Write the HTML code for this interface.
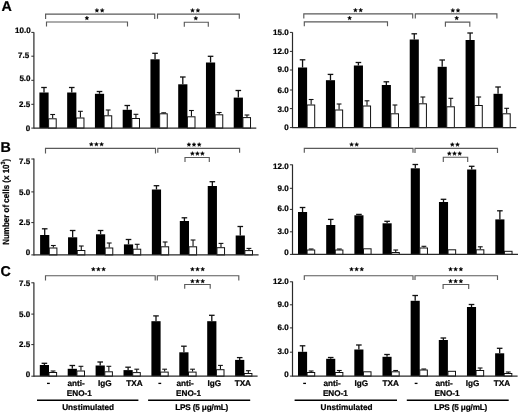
<!DOCTYPE html>
<html><head><meta charset="utf-8"><style>
html,body{margin:0;padding:0;background:#fff;}
body{width:520px;height:412px;overflow:hidden;}
svg{display:block;font-family:"Liberation Sans",sans-serif;}
text{stroke:#000;stroke-width:0.22px;}
svg{will-change:transform;text-rendering:geometricPrecision;}
</style></head><body>
<svg width="520" height="412" viewBox="0 0 520 412">
<rect width="520" height="412" fill="#fff"/>
<line x1="33.90" y1="32.20" x2="33.90" y2="128.60" stroke="#2a2a2a" stroke-width="1.2"/>
<line x1="31.30" y1="32.40" x2="33.90" y2="32.40" stroke="#2a2a2a" stroke-width="1.0"/>
<text x="30.70" y="32.80" font-size="8.0" text-anchor="end" font-weight="bold" >10.0</text>
<line x1="31.30" y1="56.20" x2="33.90" y2="56.20" stroke="#2a2a2a" stroke-width="1.0"/>
<text x="29.20" y="58.00" font-size="8.0" text-anchor="end" font-weight="bold" >7.5</text>
<line x1="31.30" y1="80.30" x2="33.90" y2="80.30" stroke="#2a2a2a" stroke-width="1.0"/>
<text x="30.50" y="81.00" font-size="8.0" text-anchor="end" font-weight="bold" >5.0</text>
<line x1="31.30" y1="104.30" x2="33.90" y2="104.30" stroke="#2a2a2a" stroke-width="1.0"/>
<text x="30.20" y="107.00" font-size="8.0" text-anchor="end" font-weight="bold" >2.5</text>
<line x1="31.30" y1="128.10" x2="33.90" y2="128.10" stroke="#2a2a2a" stroke-width="1.0"/>
<text x="30.20" y="130.80" font-size="8.0" text-anchor="end" font-weight="bold" >0</text>
<rect x="39.40" y="92.50" width="9.20" height="35.60" fill="#000"/>
<line x1="44.00" y1="87.50" x2="44.00" y2="92.50" stroke="#111" stroke-width="1.3"/>
<line x1="41.20" y1="87.50" x2="46.80" y2="87.50" stroke="#111" stroke-width="1.3"/>
<rect x="48.60" y="118.80" width="7.60" height="9.30" fill="#fff" stroke="#111" stroke-width="1.0"/>
<line x1="52.65" y1="114.50" x2="52.65" y2="118.30" stroke="#111" stroke-width="1.1"/>
<line x1="50.25" y1="114.50" x2="55.05" y2="114.50" stroke="#111" stroke-width="1.1"/>
<rect x="67.16" y="92.50" width="9.20" height="35.60" fill="#000"/>
<line x1="71.76" y1="87.50" x2="71.76" y2="92.50" stroke="#111" stroke-width="1.3"/>
<line x1="68.96" y1="87.50" x2="74.56" y2="87.50" stroke="#111" stroke-width="1.3"/>
<rect x="76.36" y="118.00" width="7.60" height="10.10" fill="#fff" stroke="#111" stroke-width="1.0"/>
<line x1="80.41" y1="111.30" x2="80.41" y2="117.50" stroke="#111" stroke-width="1.1"/>
<line x1="78.01" y1="111.30" x2="82.81" y2="111.30" stroke="#111" stroke-width="1.1"/>
<rect x="94.92" y="93.80" width="9.20" height="34.30" fill="#000"/>
<line x1="99.52" y1="91.50" x2="99.52" y2="93.80" stroke="#111" stroke-width="1.3"/>
<line x1="96.72" y1="91.50" x2="102.32" y2="91.50" stroke="#111" stroke-width="1.3"/>
<rect x="104.12" y="115.80" width="7.60" height="12.30" fill="#fff" stroke="#111" stroke-width="1.0"/>
<line x1="108.17" y1="110.00" x2="108.17" y2="115.30" stroke="#111" stroke-width="1.1"/>
<line x1="105.77" y1="110.00" x2="110.57" y2="110.00" stroke="#111" stroke-width="1.1"/>
<rect x="122.68" y="109.80" width="9.20" height="18.30" fill="#000"/>
<line x1="127.28" y1="105.50" x2="127.28" y2="109.80" stroke="#111" stroke-width="1.3"/>
<line x1="124.48" y1="105.50" x2="130.08" y2="105.50" stroke="#111" stroke-width="1.3"/>
<rect x="131.88" y="118.50" width="7.60" height="9.60" fill="#fff" stroke="#111" stroke-width="1.0"/>
<line x1="135.93" y1="114.30" x2="135.93" y2="118.00" stroke="#111" stroke-width="1.1"/>
<line x1="133.53" y1="114.30" x2="138.33" y2="114.30" stroke="#111" stroke-width="1.1"/>
<rect x="150.44" y="59.30" width="9.20" height="68.80" fill="#000"/>
<line x1="155.04" y1="53.30" x2="155.04" y2="59.30" stroke="#111" stroke-width="1.3"/>
<line x1="152.24" y1="53.30" x2="157.84" y2="53.30" stroke="#111" stroke-width="1.3"/>
<rect x="159.64" y="113.80" width="7.60" height="14.30" fill="#fff" stroke="#111" stroke-width="1.0"/>
<line x1="163.69" y1="112.80" x2="163.69" y2="113.30" stroke="#111" stroke-width="1.1"/>
<line x1="161.29" y1="112.80" x2="166.09" y2="112.80" stroke="#111" stroke-width="1.1"/>
<rect x="178.20" y="84.30" width="9.20" height="43.80" fill="#000"/>
<line x1="182.80" y1="77.00" x2="182.80" y2="84.30" stroke="#111" stroke-width="1.3"/>
<line x1="180.00" y1="77.00" x2="185.60" y2="77.00" stroke="#111" stroke-width="1.3"/>
<rect x="187.40" y="116.80" width="7.60" height="11.30" fill="#fff" stroke="#111" stroke-width="1.0"/>
<line x1="191.45" y1="110.50" x2="191.45" y2="116.30" stroke="#111" stroke-width="1.1"/>
<line x1="189.05" y1="110.50" x2="193.85" y2="110.50" stroke="#111" stroke-width="1.1"/>
<rect x="205.96" y="62.50" width="9.20" height="65.60" fill="#000"/>
<line x1="210.56" y1="56.30" x2="210.56" y2="62.50" stroke="#111" stroke-width="1.3"/>
<line x1="207.76" y1="56.30" x2="213.36" y2="56.30" stroke="#111" stroke-width="1.3"/>
<rect x="215.16" y="114.80" width="7.60" height="13.30" fill="#fff" stroke="#111" stroke-width="1.0"/>
<line x1="219.21" y1="112.50" x2="219.21" y2="114.30" stroke="#111" stroke-width="1.1"/>
<line x1="216.81" y1="112.50" x2="221.61" y2="112.50" stroke="#111" stroke-width="1.1"/>
<rect x="233.72" y="97.60" width="9.20" height="30.50" fill="#000"/>
<line x1="238.32" y1="90.50" x2="238.32" y2="97.60" stroke="#111" stroke-width="1.3"/>
<line x1="235.52" y1="90.50" x2="241.12" y2="90.50" stroke="#111" stroke-width="1.3"/>
<rect x="242.92" y="117.60" width="7.60" height="10.50" fill="#fff" stroke="#111" stroke-width="1.0"/>
<line x1="246.97" y1="115.00" x2="246.97" y2="117.10" stroke="#111" stroke-width="1.1"/>
<line x1="244.57" y1="115.00" x2="249.37" y2="115.00" stroke="#111" stroke-width="1.1"/>
<line x1="33.90" y1="128.10" x2="256.30" y2="128.10" stroke="#2a2a2a" stroke-width="1.2"/>
<line x1="292.50" y1="32.30" x2="292.50" y2="128.10" stroke="#2a2a2a" stroke-width="1.2"/>
<line x1="289.90" y1="32.40" x2="292.50" y2="32.40" stroke="#2a2a2a" stroke-width="1.0"/>
<text x="288.70" y="35.00" font-size="8.0" text-anchor="end" font-weight="bold" >15.0</text>
<line x1="289.90" y1="51.40" x2="292.50" y2="51.40" stroke="#2a2a2a" stroke-width="1.0"/>
<text x="288.70" y="53.70" font-size="8.0" text-anchor="end" font-weight="bold" >12.0</text>
<line x1="289.90" y1="70.00" x2="292.50" y2="70.00" stroke="#2a2a2a" stroke-width="1.0"/>
<text x="288.70" y="71.90" font-size="8.0" text-anchor="end" font-weight="bold" >9.0</text>
<line x1="289.90" y1="90.00" x2="292.50" y2="90.00" stroke="#2a2a2a" stroke-width="1.0"/>
<text x="288.70" y="93.30" font-size="8.0" text-anchor="end" font-weight="bold" >6.0</text>
<line x1="289.90" y1="108.60" x2="292.50" y2="108.60" stroke="#2a2a2a" stroke-width="1.0"/>
<text x="288.70" y="111.70" font-size="8.0" text-anchor="end" font-weight="bold" >3.0</text>
<line x1="289.90" y1="127.60" x2="292.50" y2="127.60" stroke="#2a2a2a" stroke-width="1.0"/>
<text x="288.70" y="130.20" font-size="8.0" text-anchor="end" font-weight="bold" >0</text>
<rect x="298.00" y="67.50" width="9.10" height="60.10" fill="#000"/>
<line x1="302.55" y1="59.80" x2="302.55" y2="67.50" stroke="#111" stroke-width="1.3"/>
<line x1="299.75" y1="59.80" x2="305.35" y2="59.80" stroke="#111" stroke-width="1.3"/>
<rect x="307.10" y="105.00" width="7.60" height="22.60" fill="#fff" stroke="#111" stroke-width="1.0"/>
<line x1="311.15" y1="99.50" x2="311.15" y2="104.50" stroke="#111" stroke-width="1.1"/>
<line x1="308.75" y1="99.50" x2="313.55" y2="99.50" stroke="#111" stroke-width="1.1"/>
<rect x="325.93" y="80.20" width="9.10" height="47.40" fill="#000"/>
<line x1="330.48" y1="74.40" x2="330.48" y2="80.20" stroke="#111" stroke-width="1.3"/>
<line x1="327.68" y1="74.40" x2="333.28" y2="74.40" stroke="#111" stroke-width="1.3"/>
<rect x="335.03" y="110.00" width="7.60" height="17.60" fill="#fff" stroke="#111" stroke-width="1.0"/>
<line x1="339.08" y1="104.00" x2="339.08" y2="109.50" stroke="#111" stroke-width="1.1"/>
<line x1="336.68" y1="104.00" x2="341.48" y2="104.00" stroke="#111" stroke-width="1.1"/>
<rect x="353.86" y="65.50" width="9.10" height="62.10" fill="#000"/>
<line x1="358.41" y1="62.50" x2="358.41" y2="65.50" stroke="#111" stroke-width="1.3"/>
<line x1="355.61" y1="62.50" x2="361.21" y2="62.50" stroke="#111" stroke-width="1.3"/>
<rect x="362.96" y="106.00" width="7.60" height="21.60" fill="#fff" stroke="#111" stroke-width="1.0"/>
<line x1="367.01" y1="100.80" x2="367.01" y2="105.50" stroke="#111" stroke-width="1.1"/>
<line x1="364.61" y1="100.80" x2="369.41" y2="100.80" stroke="#111" stroke-width="1.1"/>
<rect x="381.79" y="85.00" width="9.10" height="42.60" fill="#000"/>
<line x1="386.34" y1="81.80" x2="386.34" y2="85.00" stroke="#111" stroke-width="1.3"/>
<line x1="383.54" y1="81.80" x2="389.14" y2="81.80" stroke="#111" stroke-width="1.3"/>
<rect x="390.89" y="113.80" width="7.60" height="13.80" fill="#fff" stroke="#111" stroke-width="1.0"/>
<line x1="394.94" y1="105.00" x2="394.94" y2="113.30" stroke="#111" stroke-width="1.1"/>
<line x1="392.54" y1="105.00" x2="397.34" y2="105.00" stroke="#111" stroke-width="1.1"/>
<rect x="409.72" y="39.50" width="9.10" height="88.10" fill="#000"/>
<line x1="414.27" y1="33.80" x2="414.27" y2="39.50" stroke="#111" stroke-width="1.3"/>
<line x1="411.47" y1="33.80" x2="417.07" y2="33.80" stroke="#111" stroke-width="1.3"/>
<rect x="418.82" y="103.80" width="7.60" height="23.80" fill="#fff" stroke="#111" stroke-width="1.0"/>
<line x1="422.87" y1="97.00" x2="422.87" y2="103.30" stroke="#111" stroke-width="1.1"/>
<line x1="420.47" y1="97.00" x2="425.27" y2="97.00" stroke="#111" stroke-width="1.1"/>
<rect x="437.65" y="66.80" width="9.10" height="60.80" fill="#000"/>
<line x1="442.20" y1="60.00" x2="442.20" y2="66.80" stroke="#111" stroke-width="1.3"/>
<line x1="439.40" y1="60.00" x2="445.00" y2="60.00" stroke="#111" stroke-width="1.3"/>
<rect x="446.75" y="106.80" width="7.60" height="20.80" fill="#fff" stroke="#111" stroke-width="1.0"/>
<line x1="450.80" y1="98.30" x2="450.80" y2="106.30" stroke="#111" stroke-width="1.1"/>
<line x1="448.40" y1="98.30" x2="453.20" y2="98.30" stroke="#111" stroke-width="1.1"/>
<rect x="465.58" y="40.00" width="9.10" height="87.60" fill="#000"/>
<line x1="470.13" y1="33.00" x2="470.13" y2="40.00" stroke="#111" stroke-width="1.3"/>
<line x1="467.33" y1="33.00" x2="472.93" y2="33.00" stroke="#111" stroke-width="1.3"/>
<rect x="474.68" y="105.50" width="7.60" height="22.10" fill="#fff" stroke="#111" stroke-width="1.0"/>
<line x1="478.73" y1="97.00" x2="478.73" y2="105.00" stroke="#111" stroke-width="1.1"/>
<line x1="476.33" y1="97.00" x2="481.13" y2="97.00" stroke="#111" stroke-width="1.1"/>
<rect x="493.51" y="93.80" width="9.10" height="33.80" fill="#000"/>
<line x1="498.06" y1="87.00" x2="498.06" y2="93.80" stroke="#111" stroke-width="1.3"/>
<line x1="495.26" y1="87.00" x2="500.86" y2="87.00" stroke="#111" stroke-width="1.3"/>
<rect x="502.61" y="113.80" width="7.60" height="13.80" fill="#fff" stroke="#111" stroke-width="1.0"/>
<line x1="506.66" y1="108.30" x2="506.66" y2="113.30" stroke="#111" stroke-width="1.1"/>
<line x1="504.26" y1="108.30" x2="509.06" y2="108.30" stroke="#111" stroke-width="1.1"/>
<line x1="292.50" y1="127.60" x2="516.30" y2="127.60" stroke="#2a2a2a" stroke-width="1.2"/>
<line x1="33.90" y1="158.60" x2="33.90" y2="255.40" stroke="#2a2a2a" stroke-width="1.2"/>
<line x1="31.30" y1="159.00" x2="33.90" y2="159.00" stroke="#2a2a2a" stroke-width="1.0"/>
<text x="30.20" y="164.00" font-size="8.0" text-anchor="end" font-weight="bold" >7.5</text>
<line x1="31.30" y1="191.90" x2="33.90" y2="191.90" stroke="#2a2a2a" stroke-width="1.0"/>
<text x="30.20" y="194.70" font-size="8.0" text-anchor="end" font-weight="bold" >5.0</text>
<line x1="31.30" y1="222.60" x2="33.90" y2="222.60" stroke="#2a2a2a" stroke-width="1.0"/>
<text x="30.20" y="224.70" font-size="8.0" text-anchor="end" font-weight="bold" >2.5</text>
<line x1="31.30" y1="254.90" x2="33.90" y2="254.90" stroke="#2a2a2a" stroke-width="1.0"/>
<text x="30.20" y="255.30" font-size="8.0" text-anchor="end" font-weight="bold" >0</text>
<rect x="40.10" y="235.00" width="9.20" height="19.90" fill="#000"/>
<line x1="44.70" y1="228.80" x2="44.70" y2="235.00" stroke="#111" stroke-width="1.3"/>
<line x1="41.90" y1="228.80" x2="47.50" y2="228.80" stroke="#111" stroke-width="1.3"/>
<rect x="49.30" y="248.00" width="7.60" height="6.90" fill="#fff" stroke="#111" stroke-width="1.0"/>
<line x1="53.35" y1="245.50" x2="53.35" y2="247.50" stroke="#111" stroke-width="1.1"/>
<line x1="50.95" y1="245.50" x2="55.75" y2="245.50" stroke="#111" stroke-width="1.1"/>
<rect x="68.04" y="237.30" width="9.20" height="17.60" fill="#000"/>
<line x1="72.64" y1="230.50" x2="72.64" y2="237.30" stroke="#111" stroke-width="1.3"/>
<line x1="69.84" y1="230.50" x2="75.44" y2="230.50" stroke="#111" stroke-width="1.3"/>
<rect x="77.24" y="250.50" width="7.60" height="4.40" fill="#fff" stroke="#111" stroke-width="1.0"/>
<line x1="81.29" y1="246.00" x2="81.29" y2="250.00" stroke="#111" stroke-width="1.1"/>
<line x1="78.89" y1="246.00" x2="83.69" y2="246.00" stroke="#111" stroke-width="1.1"/>
<rect x="95.98" y="234.30" width="9.20" height="20.60" fill="#000"/>
<line x1="100.58" y1="230.50" x2="100.58" y2="234.30" stroke="#111" stroke-width="1.3"/>
<line x1="97.78" y1="230.50" x2="103.38" y2="230.50" stroke="#111" stroke-width="1.3"/>
<rect x="105.18" y="248.00" width="7.60" height="6.90" fill="#fff" stroke="#111" stroke-width="1.0"/>
<line x1="109.23" y1="243.00" x2="109.23" y2="247.50" stroke="#111" stroke-width="1.1"/>
<line x1="106.83" y1="243.00" x2="111.63" y2="243.00" stroke="#111" stroke-width="1.1"/>
<rect x="123.92" y="244.40" width="9.20" height="10.50" fill="#000"/>
<line x1="128.52" y1="239.50" x2="128.52" y2="244.40" stroke="#111" stroke-width="1.3"/>
<line x1="125.72" y1="239.50" x2="131.32" y2="239.50" stroke="#111" stroke-width="1.3"/>
<rect x="133.12" y="249.20" width="7.60" height="5.70" fill="#fff" stroke="#111" stroke-width="1.0"/>
<line x1="137.17" y1="244.30" x2="137.17" y2="248.70" stroke="#111" stroke-width="1.1"/>
<line x1="134.77" y1="244.30" x2="139.57" y2="244.30" stroke="#111" stroke-width="1.1"/>
<rect x="151.86" y="189.50" width="9.20" height="65.40" fill="#000"/>
<line x1="156.46" y1="185.70" x2="156.46" y2="189.50" stroke="#111" stroke-width="1.3"/>
<line x1="153.66" y1="185.70" x2="159.26" y2="185.70" stroke="#111" stroke-width="1.3"/>
<rect x="161.06" y="246.80" width="7.60" height="8.10" fill="#fff" stroke="#111" stroke-width="1.0"/>
<line x1="165.11" y1="242.00" x2="165.11" y2="246.30" stroke="#111" stroke-width="1.1"/>
<line x1="162.71" y1="242.00" x2="167.51" y2="242.00" stroke="#111" stroke-width="1.1"/>
<rect x="179.80" y="221.00" width="9.20" height="33.90" fill="#000"/>
<line x1="184.40" y1="217.80" x2="184.40" y2="221.00" stroke="#111" stroke-width="1.3"/>
<line x1="181.60" y1="217.80" x2="187.20" y2="217.80" stroke="#111" stroke-width="1.3"/>
<rect x="189.00" y="246.80" width="7.60" height="8.10" fill="#fff" stroke="#111" stroke-width="1.0"/>
<line x1="193.05" y1="240.00" x2="193.05" y2="246.30" stroke="#111" stroke-width="1.1"/>
<line x1="190.65" y1="240.00" x2="195.45" y2="240.00" stroke="#111" stroke-width="1.1"/>
<rect x="207.74" y="186.00" width="9.20" height="68.90" fill="#000"/>
<line x1="212.34" y1="181.70" x2="212.34" y2="186.00" stroke="#111" stroke-width="1.3"/>
<line x1="209.54" y1="181.70" x2="215.14" y2="181.70" stroke="#111" stroke-width="1.3"/>
<rect x="216.94" y="247.70" width="7.60" height="7.20" fill="#fff" stroke="#111" stroke-width="1.0"/>
<line x1="220.99" y1="243.40" x2="220.99" y2="247.20" stroke="#111" stroke-width="1.1"/>
<line x1="218.59" y1="243.40" x2="223.39" y2="243.40" stroke="#111" stroke-width="1.1"/>
<rect x="235.68" y="235.50" width="9.20" height="19.40" fill="#000"/>
<line x1="240.28" y1="226.50" x2="240.28" y2="235.50" stroke="#111" stroke-width="1.3"/>
<line x1="237.48" y1="226.50" x2="243.08" y2="226.50" stroke="#111" stroke-width="1.3"/>
<rect x="244.88" y="250.60" width="7.60" height="4.30" fill="#fff" stroke="#111" stroke-width="1.0"/>
<line x1="248.93" y1="248.40" x2="248.93" y2="250.10" stroke="#111" stroke-width="1.1"/>
<line x1="246.53" y1="248.40" x2="251.33" y2="248.40" stroke="#111" stroke-width="1.1"/>
<line x1="33.90" y1="254.90" x2="258.60" y2="254.90" stroke="#2a2a2a" stroke-width="1.2"/>
<line x1="292.50" y1="164.50" x2="292.50" y2="254.90" stroke="#2a2a2a" stroke-width="1.2"/>
<line x1="289.90" y1="164.80" x2="292.50" y2="164.80" stroke="#2a2a2a" stroke-width="1.0"/>
<text x="288.70" y="168.50" font-size="8.0" text-anchor="end" font-weight="bold" >12.0</text>
<line x1="289.90" y1="188.30" x2="292.50" y2="188.30" stroke="#2a2a2a" stroke-width="1.0"/>
<text x="288.70" y="190.80" font-size="8.0" text-anchor="end" font-weight="bold" >9.0</text>
<line x1="289.90" y1="209.40" x2="292.50" y2="209.40" stroke="#2a2a2a" stroke-width="1.0"/>
<text x="288.70" y="211.10" font-size="8.0" text-anchor="end" font-weight="bold" >6.0</text>
<line x1="289.90" y1="231.80" x2="292.50" y2="231.80" stroke="#2a2a2a" stroke-width="1.0"/>
<text x="288.70" y="234.00" font-size="8.0" text-anchor="end" font-weight="bold" >3.0</text>
<line x1="289.90" y1="254.40" x2="292.50" y2="254.40" stroke="#2a2a2a" stroke-width="1.0"/>
<text x="288.70" y="255.10" font-size="8.0" text-anchor="end" font-weight="bold" >0</text>
<rect x="298.00" y="212.00" width="9.10" height="42.40" fill="#000"/>
<line x1="302.55" y1="207.50" x2="302.55" y2="212.00" stroke="#111" stroke-width="1.3"/>
<line x1="299.75" y1="207.50" x2="305.35" y2="207.50" stroke="#111" stroke-width="1.3"/>
<rect x="307.10" y="250.00" width="7.60" height="4.40" fill="#fff" stroke="#111" stroke-width="1.0"/>
<line x1="311.15" y1="249.00" x2="311.15" y2="249.50" stroke="#111" stroke-width="1.1"/>
<line x1="308.75" y1="249.00" x2="313.55" y2="249.00" stroke="#111" stroke-width="1.1"/>
<rect x="326.19" y="225.00" width="9.10" height="29.40" fill="#000"/>
<line x1="330.74" y1="219.40" x2="330.74" y2="225.00" stroke="#111" stroke-width="1.3"/>
<line x1="327.94" y1="219.40" x2="333.54" y2="219.40" stroke="#111" stroke-width="1.3"/>
<rect x="335.29" y="250.00" width="7.60" height="4.40" fill="#fff" stroke="#111" stroke-width="1.0"/>
<line x1="339.34" y1="249.00" x2="339.34" y2="249.50" stroke="#111" stroke-width="1.1"/>
<line x1="336.94" y1="249.00" x2="341.74" y2="249.00" stroke="#111" stroke-width="1.1"/>
<rect x="354.38" y="215.30" width="9.10" height="39.10" fill="#000"/>
<line x1="358.93" y1="214.40" x2="358.93" y2="215.30" stroke="#111" stroke-width="1.3"/>
<line x1="356.13" y1="214.40" x2="361.73" y2="214.40" stroke="#111" stroke-width="1.3"/>
<rect x="363.48" y="248.80" width="7.60" height="5.60" fill="#fff" stroke="#111" stroke-width="1.0"/>
<rect x="382.57" y="223.30" width="9.10" height="31.10" fill="#000"/>
<line x1="387.12" y1="221.30" x2="387.12" y2="223.30" stroke="#111" stroke-width="1.3"/>
<line x1="384.32" y1="221.30" x2="389.92" y2="221.30" stroke="#111" stroke-width="1.3"/>
<rect x="391.67" y="252.50" width="7.60" height="1.90" fill="#fff" stroke="#111" stroke-width="1.0"/>
<line x1="395.72" y1="250.00" x2="395.72" y2="252.00" stroke="#111" stroke-width="1.1"/>
<line x1="393.32" y1="250.00" x2="398.12" y2="250.00" stroke="#111" stroke-width="1.1"/>
<rect x="410.76" y="168.30" width="9.10" height="86.10" fill="#000"/>
<line x1="415.31" y1="164.50" x2="415.31" y2="168.30" stroke="#111" stroke-width="1.3"/>
<line x1="412.51" y1="164.50" x2="418.11" y2="164.50" stroke="#111" stroke-width="1.3"/>
<rect x="419.86" y="248.00" width="7.60" height="6.40" fill="#fff" stroke="#111" stroke-width="1.0"/>
<line x1="423.91" y1="246.30" x2="423.91" y2="247.50" stroke="#111" stroke-width="1.1"/>
<line x1="421.51" y1="246.30" x2="426.31" y2="246.30" stroke="#111" stroke-width="1.1"/>
<rect x="438.95" y="202.00" width="9.10" height="52.40" fill="#000"/>
<line x1="443.50" y1="199.30" x2="443.50" y2="202.00" stroke="#111" stroke-width="1.3"/>
<line x1="440.70" y1="199.30" x2="446.30" y2="199.30" stroke="#111" stroke-width="1.3"/>
<rect x="448.05" y="249.80" width="7.60" height="4.60" fill="#fff" stroke="#111" stroke-width="1.0"/>
<rect x="467.14" y="169.50" width="9.10" height="84.90" fill="#000"/>
<line x1="471.69" y1="166.30" x2="471.69" y2="169.50" stroke="#111" stroke-width="1.3"/>
<line x1="468.89" y1="166.30" x2="474.49" y2="166.30" stroke="#111" stroke-width="1.3"/>
<rect x="476.24" y="249.80" width="7.60" height="4.60" fill="#fff" stroke="#111" stroke-width="1.0"/>
<line x1="480.29" y1="246.80" x2="480.29" y2="249.30" stroke="#111" stroke-width="1.1"/>
<line x1="477.89" y1="246.80" x2="482.69" y2="246.80" stroke="#111" stroke-width="1.1"/>
<rect x="495.33" y="219.40" width="9.10" height="35.00" fill="#000"/>
<line x1="499.88" y1="210.80" x2="499.88" y2="219.40" stroke="#111" stroke-width="1.3"/>
<line x1="497.08" y1="210.80" x2="502.68" y2="210.80" stroke="#111" stroke-width="1.3"/>
<rect x="504.43" y="251.30" width="7.60" height="3.10" fill="#fff" stroke="#111" stroke-width="1.0"/>
<line x1="292.50" y1="254.40" x2="518.00" y2="254.40" stroke="#2a2a2a" stroke-width="1.2"/>
<line x1="33.90" y1="282.50" x2="33.90" y2="376.70" stroke="#2a2a2a" stroke-width="1.2"/>
<line x1="31.30" y1="282.80" x2="33.90" y2="282.80" stroke="#2a2a2a" stroke-width="1.0"/>
<text x="30.20" y="286.20" font-size="8.0" text-anchor="end" font-weight="bold" >7.5</text>
<line x1="31.30" y1="314.10" x2="33.90" y2="314.10" stroke="#2a2a2a" stroke-width="1.0"/>
<text x="30.20" y="316.80" font-size="8.0" text-anchor="end" font-weight="bold" >5.0</text>
<line x1="31.30" y1="344.60" x2="33.90" y2="344.60" stroke="#2a2a2a" stroke-width="1.0"/>
<text x="30.20" y="346.70" font-size="8.0" text-anchor="end" font-weight="bold" >2.5</text>
<line x1="31.30" y1="376.20" x2="33.90" y2="376.20" stroke="#2a2a2a" stroke-width="1.0"/>
<text x="30.20" y="377.30" font-size="8.0" text-anchor="end" font-weight="bold" >0</text>
<rect x="39.80" y="365.00" width="9.20" height="11.20" fill="#000"/>
<line x1="44.40" y1="363.30" x2="44.40" y2="365.00" stroke="#111" stroke-width="1.3"/>
<line x1="41.60" y1="363.30" x2="47.20" y2="363.30" stroke="#111" stroke-width="1.3"/>
<rect x="49.00" y="372.50" width="7.60" height="3.70" fill="#fff" stroke="#111" stroke-width="1.0"/>
<line x1="53.05" y1="371.00" x2="53.05" y2="372.00" stroke="#111" stroke-width="1.1"/>
<line x1="50.65" y1="371.00" x2="55.45" y2="371.00" stroke="#111" stroke-width="1.1"/>
<rect x="67.70" y="368.80" width="9.20" height="7.40" fill="#000"/>
<line x1="72.30" y1="365.50" x2="72.30" y2="368.80" stroke="#111" stroke-width="1.3"/>
<line x1="69.50" y1="365.50" x2="75.10" y2="365.50" stroke="#111" stroke-width="1.3"/>
<rect x="76.90" y="371.00" width="7.60" height="5.20" fill="#fff" stroke="#111" stroke-width="1.0"/>
<line x1="80.95" y1="366.30" x2="80.95" y2="370.50" stroke="#111" stroke-width="1.1"/>
<line x1="78.55" y1="366.30" x2="83.35" y2="366.30" stroke="#111" stroke-width="1.1"/>
<rect x="95.60" y="365.50" width="9.20" height="10.70" fill="#000"/>
<line x1="100.20" y1="362.00" x2="100.20" y2="365.50" stroke="#111" stroke-width="1.3"/>
<line x1="97.40" y1="362.00" x2="103.00" y2="362.00" stroke="#111" stroke-width="1.3"/>
<rect x="104.80" y="371.80" width="7.60" height="4.40" fill="#fff" stroke="#111" stroke-width="1.0"/>
<line x1="108.85" y1="366.30" x2="108.85" y2="371.30" stroke="#111" stroke-width="1.1"/>
<line x1="106.45" y1="366.30" x2="111.25" y2="366.30" stroke="#111" stroke-width="1.1"/>
<rect x="123.50" y="370.10" width="9.20" height="6.10" fill="#000"/>
<line x1="128.10" y1="367.20" x2="128.10" y2="370.10" stroke="#111" stroke-width="1.3"/>
<line x1="125.30" y1="367.20" x2="130.90" y2="367.20" stroke="#111" stroke-width="1.3"/>
<rect x="132.70" y="372.60" width="7.60" height="3.60" fill="#fff" stroke="#111" stroke-width="1.0"/>
<line x1="136.75" y1="369.20" x2="136.75" y2="372.10" stroke="#111" stroke-width="1.1"/>
<line x1="134.35" y1="369.20" x2="139.15" y2="369.20" stroke="#111" stroke-width="1.1"/>
<rect x="151.40" y="321.20" width="9.20" height="55.00" fill="#000"/>
<line x1="156.00" y1="315.90" x2="156.00" y2="321.20" stroke="#111" stroke-width="1.3"/>
<line x1="153.20" y1="315.90" x2="158.80" y2="315.90" stroke="#111" stroke-width="1.3"/>
<rect x="160.60" y="372.10" width="7.60" height="4.10" fill="#fff" stroke="#111" stroke-width="1.0"/>
<line x1="164.65" y1="369.20" x2="164.65" y2="371.60" stroke="#111" stroke-width="1.1"/>
<line x1="162.25" y1="369.20" x2="167.05" y2="369.20" stroke="#111" stroke-width="1.1"/>
<rect x="179.30" y="352.30" width="9.20" height="23.90" fill="#000"/>
<line x1="183.90" y1="346.20" x2="183.90" y2="352.30" stroke="#111" stroke-width="1.3"/>
<line x1="181.10" y1="346.20" x2="186.70" y2="346.20" stroke="#111" stroke-width="1.3"/>
<rect x="188.50" y="372.10" width="7.60" height="4.10" fill="#fff" stroke="#111" stroke-width="1.0"/>
<line x1="192.55" y1="369.20" x2="192.55" y2="371.60" stroke="#111" stroke-width="1.1"/>
<line x1="190.15" y1="369.20" x2="194.95" y2="369.20" stroke="#111" stroke-width="1.1"/>
<rect x="207.20" y="321.20" width="9.20" height="55.00" fill="#000"/>
<line x1="211.80" y1="315.30" x2="211.80" y2="321.20" stroke="#111" stroke-width="1.3"/>
<line x1="209.00" y1="315.30" x2="214.60" y2="315.30" stroke="#111" stroke-width="1.3"/>
<rect x="216.40" y="369.70" width="7.60" height="6.50" fill="#fff" stroke="#111" stroke-width="1.0"/>
<line x1="220.45" y1="365.40" x2="220.45" y2="369.20" stroke="#111" stroke-width="1.1"/>
<line x1="218.05" y1="365.40" x2="222.85" y2="365.40" stroke="#111" stroke-width="1.1"/>
<rect x="235.10" y="359.90" width="9.20" height="16.30" fill="#000"/>
<line x1="239.70" y1="357.60" x2="239.70" y2="359.90" stroke="#111" stroke-width="1.3"/>
<line x1="236.90" y1="357.60" x2="242.50" y2="357.60" stroke="#111" stroke-width="1.3"/>
<rect x="244.30" y="373.50" width="7.60" height="2.70" fill="#fff" stroke="#111" stroke-width="1.0"/>
<line x1="248.35" y1="370.70" x2="248.35" y2="373.00" stroke="#111" stroke-width="1.1"/>
<line x1="245.95" y1="370.70" x2="250.75" y2="370.70" stroke="#111" stroke-width="1.1"/>
<line x1="33.90" y1="376.20" x2="257.60" y2="376.20" stroke="#2a2a2a" stroke-width="1.2"/>
<line x1="292.50" y1="281.50" x2="292.50" y2="376.60" stroke="#2a2a2a" stroke-width="1.2"/>
<line x1="289.90" y1="281.80" x2="292.50" y2="281.80" stroke="#2a2a2a" stroke-width="1.0"/>
<text x="288.70" y="284.40" font-size="8.0" text-anchor="end" font-weight="bold" >12.0</text>
<line x1="289.90" y1="304.80" x2="292.50" y2="304.80" stroke="#2a2a2a" stroke-width="1.0"/>
<text x="288.70" y="307.30" font-size="8.0" text-anchor="end" font-weight="bold" >9.0</text>
<line x1="289.90" y1="327.90" x2="292.50" y2="327.90" stroke="#2a2a2a" stroke-width="1.0"/>
<text x="288.70" y="330.10" font-size="8.0" text-anchor="end" font-weight="bold" >6.0</text>
<line x1="289.90" y1="352.20" x2="292.50" y2="352.20" stroke="#2a2a2a" stroke-width="1.0"/>
<text x="288.70" y="354.00" font-size="8.0" text-anchor="end" font-weight="bold" >3.0</text>
<line x1="289.90" y1="376.10" x2="292.50" y2="376.10" stroke="#2a2a2a" stroke-width="1.0"/>
<text x="288.70" y="376.60" font-size="8.0" text-anchor="end" font-weight="bold" >0</text>
<rect x="298.00" y="351.80" width="9.10" height="24.30" fill="#000"/>
<line x1="302.55" y1="345.80" x2="302.55" y2="351.80" stroke="#111" stroke-width="1.3"/>
<line x1="299.75" y1="345.80" x2="305.35" y2="345.80" stroke="#111" stroke-width="1.3"/>
<rect x="307.10" y="372.50" width="7.60" height="3.60" fill="#fff" stroke="#111" stroke-width="1.0"/>
<line x1="311.15" y1="371.00" x2="311.15" y2="372.00" stroke="#111" stroke-width="1.1"/>
<line x1="308.75" y1="371.00" x2="313.55" y2="371.00" stroke="#111" stroke-width="1.1"/>
<rect x="326.16" y="358.80" width="9.10" height="17.30" fill="#000"/>
<line x1="330.71" y1="357.50" x2="330.71" y2="358.80" stroke="#111" stroke-width="1.3"/>
<line x1="327.91" y1="357.50" x2="333.51" y2="357.50" stroke="#111" stroke-width="1.3"/>
<rect x="335.26" y="372.50" width="7.60" height="3.60" fill="#fff" stroke="#111" stroke-width="1.0"/>
<line x1="339.31" y1="370.50" x2="339.31" y2="372.00" stroke="#111" stroke-width="1.1"/>
<line x1="336.91" y1="370.50" x2="341.71" y2="370.50" stroke="#111" stroke-width="1.1"/>
<rect x="354.32" y="349.50" width="9.10" height="26.60" fill="#000"/>
<line x1="358.87" y1="345.00" x2="358.87" y2="349.50" stroke="#111" stroke-width="1.3"/>
<line x1="356.07" y1="345.00" x2="361.67" y2="345.00" stroke="#111" stroke-width="1.3"/>
<rect x="363.42" y="371.80" width="7.60" height="4.30" fill="#fff" stroke="#111" stroke-width="1.0"/>
<rect x="382.48" y="356.80" width="9.10" height="19.30" fill="#000"/>
<line x1="387.03" y1="354.50" x2="387.03" y2="356.80" stroke="#111" stroke-width="1.3"/>
<line x1="384.23" y1="354.50" x2="389.83" y2="354.50" stroke="#111" stroke-width="1.3"/>
<rect x="391.58" y="371.80" width="7.60" height="4.30" fill="#fff" stroke="#111" stroke-width="1.0"/>
<line x1="395.63" y1="370.50" x2="395.63" y2="371.30" stroke="#111" stroke-width="1.1"/>
<line x1="393.23" y1="370.50" x2="398.03" y2="370.50" stroke="#111" stroke-width="1.1"/>
<rect x="410.64" y="300.80" width="9.10" height="75.30" fill="#000"/>
<line x1="415.19" y1="295.50" x2="415.19" y2="300.80" stroke="#111" stroke-width="1.3"/>
<line x1="412.39" y1="295.50" x2="417.99" y2="295.50" stroke="#111" stroke-width="1.3"/>
<rect x="419.74" y="370.00" width="7.60" height="6.10" fill="#fff" stroke="#111" stroke-width="1.0"/>
<line x1="423.79" y1="369.00" x2="423.79" y2="369.50" stroke="#111" stroke-width="1.1"/>
<line x1="421.39" y1="369.00" x2="426.19" y2="369.00" stroke="#111" stroke-width="1.1"/>
<rect x="438.80" y="340.00" width="9.10" height="36.10" fill="#000"/>
<line x1="443.35" y1="338.00" x2="443.35" y2="340.00" stroke="#111" stroke-width="1.3"/>
<line x1="440.55" y1="338.00" x2="446.15" y2="338.00" stroke="#111" stroke-width="1.3"/>
<rect x="447.90" y="371.30" width="7.60" height="4.80" fill="#fff" stroke="#111" stroke-width="1.0"/>
<rect x="466.96" y="307.00" width="9.10" height="69.10" fill="#000"/>
<line x1="471.51" y1="304.50" x2="471.51" y2="307.00" stroke="#111" stroke-width="1.3"/>
<line x1="468.71" y1="304.50" x2="474.31" y2="304.50" stroke="#111" stroke-width="1.3"/>
<rect x="476.06" y="370.50" width="7.60" height="5.60" fill="#fff" stroke="#111" stroke-width="1.0"/>
<line x1="480.11" y1="368.00" x2="480.11" y2="370.00" stroke="#111" stroke-width="1.1"/>
<line x1="477.71" y1="368.00" x2="482.51" y2="368.00" stroke="#111" stroke-width="1.1"/>
<rect x="495.12" y="353.30" width="9.10" height="22.80" fill="#000"/>
<line x1="499.67" y1="348.30" x2="499.67" y2="353.30" stroke="#111" stroke-width="1.3"/>
<line x1="496.87" y1="348.30" x2="502.47" y2="348.30" stroke="#111" stroke-width="1.3"/>
<rect x="504.22" y="373.50" width="7.60" height="2.60" fill="#fff" stroke="#111" stroke-width="1.0"/>
<line x1="508.27" y1="372.00" x2="508.27" y2="373.00" stroke="#111" stroke-width="1.1"/>
<line x1="505.87" y1="372.00" x2="510.67" y2="372.00" stroke="#111" stroke-width="1.1"/>
<line x1="292.50" y1="376.10" x2="517.60" y2="376.10" stroke="#2a2a2a" stroke-width="1.2"/>
<text x="1.50" y="10.70" font-size="14.3" text-anchor="start" font-weight="bold" >A</text>
<text x="0.40" y="151.80" font-size="14.3" text-anchor="start" font-weight="bold" >B</text>
<text x="0.40" y="276.30" font-size="14.3" text-anchor="start" font-weight="bold" >C</text>
<path d="M45.60,19.00 V14.10 H154.70 V19.00" fill="none" stroke="#5a5a5a" stroke-width="1.15"/>
<polygon points="96.90,8.30 97.47,9.67 98.94,9.79 97.82,10.75 98.16,12.19 96.90,11.42 95.64,12.19 95.98,10.75 94.86,9.79 96.33,9.67" fill="#000" stroke="#000" stroke-width="0.35" stroke-linejoin="round"/>
<polygon points="102.20,8.30 102.77,9.67 104.24,9.79 103.12,10.75 103.46,12.19 102.20,11.42 100.94,12.19 101.28,10.75 100.16,9.79 101.63,9.67" fill="#000" stroke="#000" stroke-width="0.35" stroke-linejoin="round"/>
<path d="M46.50,26.50 V22.00 H127.50 V26.50" fill="none" stroke="#5a5a5a" stroke-width="1.15"/>
<polygon points="86.90,16.00 87.47,17.37 88.94,17.49 87.82,18.45 88.16,19.89 86.90,19.12 85.64,19.89 85.98,18.45 84.86,17.49 86.33,17.37" fill="#000" stroke="#000" stroke-width="0.35" stroke-linejoin="round"/>
<path d="M157.50,18.80 V14.10 H239.30 V18.80" fill="none" stroke="#5a5a5a" stroke-width="1.15"/>
<polygon points="192.50,8.30 193.07,9.67 194.54,9.79 193.42,10.75 193.76,12.19 192.50,11.42 191.24,12.19 191.58,10.75 190.46,9.79 191.93,9.67" fill="#000" stroke="#000" stroke-width="0.35" stroke-linejoin="round"/>
<polygon points="197.90,8.30 198.47,9.67 199.94,9.79 198.82,10.75 199.16,12.19 197.90,11.42 196.64,12.19 196.98,10.75 195.86,9.79 197.33,9.67" fill="#000" stroke="#000" stroke-width="0.35" stroke-linejoin="round"/>
<path d="M184.30,26.70 V22.20 H208.30 V26.70" fill="none" stroke="#5a5a5a" stroke-width="1.15"/>
<polygon points="195.80,16.20 196.37,17.57 197.84,17.69 196.72,18.65 197.06,20.09 195.80,19.32 194.54,20.09 194.88,18.65 193.76,17.69 195.23,17.57" fill="#000" stroke="#000" stroke-width="0.35" stroke-linejoin="round"/>
<path d="M303.80,18.40 V13.90 H412.70 V18.40" fill="none" stroke="#5a5a5a" stroke-width="1.15"/>
<polygon points="355.40,8.10 355.97,9.47 357.44,9.59 356.32,10.55 356.66,11.99 355.40,11.22 354.14,11.99 354.48,10.55 353.36,9.59 354.83,9.47" fill="#000" stroke="#000" stroke-width="0.35" stroke-linejoin="round"/>
<polygon points="360.70,8.10 361.27,9.47 362.74,9.59 361.62,10.55 361.96,11.99 360.70,11.22 359.44,11.99 359.78,10.55 358.66,9.59 360.13,9.47" fill="#000" stroke="#000" stroke-width="0.35" stroke-linejoin="round"/>
<path d="M304.30,26.30 V21.90 H387.50 V26.30" fill="none" stroke="#5a5a5a" stroke-width="1.15"/>
<polygon points="349.60,16.00 350.17,17.37 351.64,17.49 350.52,18.45 350.86,19.89 349.60,19.12 348.34,19.89 348.68,18.45 347.56,17.49 349.03,17.37" fill="#000" stroke="#000" stroke-width="0.35" stroke-linejoin="round"/>
<path d="M415.30,18.40 V13.90 H496.90 V18.40" fill="none" stroke="#5a5a5a" stroke-width="1.15"/>
<polygon points="452.80,8.30 453.37,9.67 454.84,9.79 453.72,10.75 454.06,12.19 452.80,11.42 451.54,12.19 451.88,10.75 450.76,9.79 452.23,9.67" fill="#000" stroke="#000" stroke-width="0.35" stroke-linejoin="round"/>
<polygon points="458.00,8.30 458.57,9.67 460.04,9.79 458.92,10.75 459.26,12.19 458.00,11.42 456.74,12.19 457.08,10.75 455.96,9.79 457.43,9.67" fill="#000" stroke="#000" stroke-width="0.35" stroke-linejoin="round"/>
<path d="M445.40,26.70 V22.10 H469.80 V26.70" fill="none" stroke="#5a5a5a" stroke-width="1.15"/>
<polygon points="456.70,16.00 457.27,17.37 458.74,17.49 457.62,18.45 457.96,19.89 456.70,19.12 455.44,19.89 455.78,18.45 454.66,17.49 456.13,17.37" fill="#000" stroke="#000" stroke-width="0.35" stroke-linejoin="round"/>
<path d="M45.50,153.50 V148.40 H155.50 V153.50" fill="none" stroke="#5a5a5a" stroke-width="1.15"/>
<polygon points="91.30,142.20 91.87,143.57 93.34,143.69 92.22,144.65 92.56,146.09 91.30,145.32 90.04,146.09 90.38,144.65 89.26,143.69 90.73,143.57" fill="#000" stroke="#000" stroke-width="0.35" stroke-linejoin="round"/>
<polygon points="96.40,142.20 96.97,143.57 98.44,143.69 97.32,144.65 97.66,146.09 96.40,145.32 95.14,146.09 95.48,144.65 94.36,143.69 95.83,143.57" fill="#000" stroke="#000" stroke-width="0.35" stroke-linejoin="round"/>
<polygon points="101.60,142.20 102.17,143.57 103.64,143.69 102.52,144.65 102.86,146.09 101.60,145.32 100.34,146.09 100.68,144.65 99.56,143.69 101.03,143.57" fill="#000" stroke="#000" stroke-width="0.35" stroke-linejoin="round"/>
<path d="M157.80,152.80 V148.30 H239.60 V152.80" fill="none" stroke="#5a5a5a" stroke-width="1.15"/>
<polygon points="188.90,142.50 189.47,143.87 190.94,143.99 189.82,144.95 190.16,146.39 188.90,145.62 187.64,146.39 187.98,144.95 186.86,143.99 188.33,143.87" fill="#000" stroke="#000" stroke-width="0.35" stroke-linejoin="round"/>
<polygon points="194.00,142.50 194.57,143.87 196.04,143.99 194.92,144.95 195.26,146.39 194.00,145.62 192.74,146.39 193.08,144.95 191.96,143.99 193.43,143.87" fill="#000" stroke="#000" stroke-width="0.35" stroke-linejoin="round"/>
<polygon points="199.20,142.50 199.77,143.87 201.24,143.99 200.12,144.95 200.46,146.39 199.20,145.62 197.94,146.39 198.28,144.95 197.16,143.99 198.63,143.87" fill="#000" stroke="#000" stroke-width="0.35" stroke-linejoin="round"/>
<path d="M185.00,162.00 V157.50 H209.30 V162.00" fill="none" stroke="#5a5a5a" stroke-width="1.15"/>
<polygon points="192.40,151.50 192.97,152.87 194.44,152.99 193.32,153.95 193.66,155.39 192.40,154.62 191.14,155.39 191.48,153.95 190.36,152.99 191.83,152.87" fill="#000" stroke="#000" stroke-width="0.35" stroke-linejoin="round"/>
<polygon points="197.40,151.50 197.97,152.87 199.44,152.99 198.32,153.95 198.66,155.39 197.40,154.62 196.14,155.39 196.48,153.95 195.36,152.99 196.83,152.87" fill="#000" stroke="#000" stroke-width="0.35" stroke-linejoin="round"/>
<polygon points="202.40,151.50 202.97,152.87 204.44,152.99 203.32,153.95 203.66,155.39 202.40,154.62 201.14,155.39 201.48,153.95 200.36,152.99 201.83,152.87" fill="#000" stroke="#000" stroke-width="0.35" stroke-linejoin="round"/>
<path d="M304.30,152.80 V148.30 H413.00 V152.80" fill="none" stroke="#5a5a5a" stroke-width="1.15"/>
<polygon points="351.60,142.40 352.17,143.77 353.64,143.89 352.52,144.85 352.86,146.29 351.60,145.52 350.34,146.29 350.68,144.85 349.56,143.89 351.03,143.77" fill="#000" stroke="#000" stroke-width="0.35" stroke-linejoin="round"/>
<polygon points="356.70,142.40 357.27,143.77 358.74,143.89 357.62,144.85 357.96,146.29 356.70,145.52 355.44,146.29 355.78,144.85 354.66,143.89 356.13,143.77" fill="#000" stroke="#000" stroke-width="0.35" stroke-linejoin="round"/>
<path d="M415.00,153.00 V148.30 H497.50 V153.00" fill="none" stroke="#5a5a5a" stroke-width="1.15"/>
<polygon points="452.30,142.50 452.87,143.87 454.34,143.99 453.22,144.95 453.56,146.39 452.30,145.62 451.04,146.39 451.38,144.95 450.26,143.99 451.73,143.87" fill="#000" stroke="#000" stroke-width="0.35" stroke-linejoin="round"/>
<polygon points="457.50,142.50 458.07,143.87 459.54,143.99 458.42,144.95 458.76,146.39 457.50,145.62 456.24,146.39 456.58,144.95 455.46,143.99 456.93,143.87" fill="#000" stroke="#000" stroke-width="0.35" stroke-linejoin="round"/>
<path d="M443.30,162.00 V157.20 H467.70 V162.00" fill="none" stroke="#5a5a5a" stroke-width="1.15"/>
<polygon points="449.30,151.50 449.87,152.87 451.34,152.99 450.22,153.95 450.56,155.39 449.30,154.62 448.04,155.39 448.38,153.95 447.26,152.99 448.73,152.87" fill="#000" stroke="#000" stroke-width="0.35" stroke-linejoin="round"/>
<polygon points="454.50,151.50 455.07,152.87 456.54,152.99 455.42,153.95 455.76,155.39 454.50,154.62 453.24,155.39 453.58,153.95 452.46,152.99 453.93,152.87" fill="#000" stroke="#000" stroke-width="0.35" stroke-linejoin="round"/>
<polygon points="459.70,151.50 460.27,152.87 461.74,152.99 460.62,153.95 460.96,155.39 459.70,154.62 458.44,155.39 458.78,153.95 457.66,152.99 459.13,152.87" fill="#000" stroke="#000" stroke-width="0.35" stroke-linejoin="round"/>
<path d="M45.50,280.40 V275.70 H155.20 V280.40" fill="none" stroke="#5a5a5a" stroke-width="1.15"/>
<polygon points="93.30,267.10 93.87,268.47 95.34,268.59 94.22,269.55 94.56,270.99 93.30,270.22 92.04,270.99 92.38,269.55 91.26,268.59 92.73,268.47" fill="#000" stroke="#000" stroke-width="0.35" stroke-linejoin="round"/>
<polygon points="98.40,267.10 98.97,268.47 100.44,268.59 99.32,269.55 99.66,270.99 98.40,270.22 97.14,270.99 97.48,269.55 96.36,268.59 97.83,268.47" fill="#000" stroke="#000" stroke-width="0.35" stroke-linejoin="round"/>
<polygon points="103.60,267.10 104.17,268.47 105.64,268.59 104.52,269.55 104.86,270.99 103.60,270.22 102.34,270.99 102.68,269.55 101.56,268.59 103.03,268.47" fill="#000" stroke="#000" stroke-width="0.35" stroke-linejoin="round"/>
<path d="M157.30,280.40 V275.70 H238.80 V280.40" fill="none" stroke="#5a5a5a" stroke-width="1.15"/>
<polygon points="192.40,267.10 192.97,268.47 194.44,268.59 193.32,269.55 193.66,270.99 192.40,270.22 191.14,270.99 191.48,269.55 190.36,268.59 191.83,268.47" fill="#000" stroke="#000" stroke-width="0.35" stroke-linejoin="round"/>
<polygon points="197.50,267.10 198.07,268.47 199.54,268.59 198.42,269.55 198.76,270.99 197.50,270.22 196.24,270.99 196.58,269.55 195.46,268.59 196.93,268.47" fill="#000" stroke="#000" stroke-width="0.35" stroke-linejoin="round"/>
<polygon points="202.70,267.10 203.27,268.47 204.74,268.59 203.62,269.55 203.96,270.99 202.70,270.22 201.44,270.99 201.78,269.55 200.66,268.59 202.13,268.47" fill="#000" stroke="#000" stroke-width="0.35" stroke-linejoin="round"/>
<path d="M184.70,288.80 V284.50 H210.20 V288.80" fill="none" stroke="#5a5a5a" stroke-width="1.15"/>
<polygon points="192.40,279.10 192.97,280.47 194.44,280.59 193.32,281.55 193.66,282.99 192.40,282.22 191.14,282.99 191.48,281.55 190.36,280.59 191.83,280.47" fill="#000" stroke="#000" stroke-width="0.35" stroke-linejoin="round"/>
<polygon points="197.50,279.10 198.07,280.47 199.54,280.59 198.42,281.55 198.76,282.99 197.50,282.22 196.24,282.99 196.58,281.55 195.46,280.59 196.93,280.47" fill="#000" stroke="#000" stroke-width="0.35" stroke-linejoin="round"/>
<polygon points="202.70,279.10 203.27,280.47 204.74,280.59 203.62,281.55 203.96,282.99 202.70,282.22 201.44,282.99 201.78,281.55 200.66,280.59 202.13,280.47" fill="#000" stroke="#000" stroke-width="0.35" stroke-linejoin="round"/>
<path d="M304.30,280.00 V275.70 H413.00 V280.00" fill="none" stroke="#5a5a5a" stroke-width="1.15"/>
<polygon points="351.50,267.10 352.07,268.47 353.54,268.59 352.42,269.55 352.76,270.99 351.50,270.22 350.24,270.99 350.58,269.55 349.46,268.59 350.93,268.47" fill="#000" stroke="#000" stroke-width="0.35" stroke-linejoin="round"/>
<polygon points="356.60,267.10 357.17,268.47 358.64,268.59 357.52,269.55 357.86,270.99 356.60,270.22 355.34,270.99 355.68,269.55 354.56,268.59 356.03,268.47" fill="#000" stroke="#000" stroke-width="0.35" stroke-linejoin="round"/>
<polygon points="361.80,267.10 362.37,268.47 363.84,268.59 362.72,269.55 363.06,270.99 361.80,270.22 360.54,270.99 360.88,269.55 359.76,268.59 361.23,268.47" fill="#000" stroke="#000" stroke-width="0.35" stroke-linejoin="round"/>
<path d="M415.00,280.00 V275.70 H497.50 V280.00" fill="none" stroke="#5a5a5a" stroke-width="1.15"/>
<polygon points="450.50,267.10 451.07,268.47 452.54,268.59 451.42,269.55 451.76,270.99 450.50,270.22 449.24,270.99 449.58,269.55 448.46,268.59 449.93,268.47" fill="#000" stroke="#000" stroke-width="0.35" stroke-linejoin="round"/>
<polygon points="455.60,267.10 456.17,268.47 457.64,268.59 456.52,269.55 456.86,270.99 455.60,270.22 454.34,270.99 454.68,269.55 453.56,268.59 455.03,268.47" fill="#000" stroke="#000" stroke-width="0.35" stroke-linejoin="round"/>
<polygon points="460.90,267.10 461.47,268.47 462.94,268.59 461.82,269.55 462.16,270.99 460.90,270.22 459.64,270.99 459.98,269.55 458.86,268.59 460.33,268.47" fill="#000" stroke="#000" stroke-width="0.35" stroke-linejoin="round"/>
<path d="M443.10,289.00 V284.50 H468.70 V289.00" fill="none" stroke="#5a5a5a" stroke-width="1.15"/>
<polygon points="450.50,279.10 451.07,280.47 452.54,280.59 451.42,281.55 451.76,282.99 450.50,282.22 449.24,282.99 449.58,281.55 448.46,280.59 449.93,280.47" fill="#000" stroke="#000" stroke-width="0.35" stroke-linejoin="round"/>
<polygon points="455.60,279.10 456.17,280.47 457.64,280.59 456.52,281.55 456.86,282.99 455.60,282.22 454.34,282.99 454.68,281.55 453.56,280.59 455.03,280.47" fill="#000" stroke="#000" stroke-width="0.35" stroke-linejoin="round"/>
<polygon points="460.90,279.10 461.47,280.47 462.94,280.59 461.82,281.55 462.16,282.99 460.90,282.22 459.64,282.99 459.98,281.55 458.86,280.59 460.33,280.47" fill="#000" stroke="#000" stroke-width="0.35" stroke-linejoin="round"/>
<rect x="47.00" y="382.75" width="2.8" height="1.3" fill="#000"/>
<rect x="158.40" y="382.75" width="2.8" height="1.3" fill="#000"/>
<rect x="303.20" y="382.75" width="2.8" height="1.3" fill="#000"/>
<rect x="414.70" y="382.75" width="2.8" height="1.3" fill="#000"/>
<text x="67.40" y="386.30" font-size="8.2" text-anchor="start" font-weight="bold" >anti-</text>
<text x="66.80" y="396.20" font-size="8.2" text-anchor="start" font-weight="bold" >ENO-1</text>
<text x="98.00" y="386.30" font-size="8.2" text-anchor="start" font-weight="bold" >IgG</text>
<text x="126.35" y="386.30" font-size="8.2" text-anchor="start" font-weight="bold" >TXA</text>
<text x="176.40" y="386.30" font-size="8.2" text-anchor="start" font-weight="bold" >anti-</text>
<text x="176.10" y="396.20" font-size="8.2" text-anchor="start" font-weight="bold" >ENO-1</text>
<text x="207.40" y="386.30" font-size="8.2" text-anchor="start" font-weight="bold" >IgG</text>
<text x="234.65" y="386.30" font-size="8.2" text-anchor="start" font-weight="bold" >TXA</text>
<text x="323.50" y="386.30" font-size="8.2" text-anchor="start" font-weight="bold" >anti-</text>
<text x="322.90" y="396.20" font-size="8.2" text-anchor="start" font-weight="bold" >ENO-1</text>
<text x="354.40" y="386.30" font-size="8.2" text-anchor="start" font-weight="bold" >IgG</text>
<text x="382.55" y="386.30" font-size="8.2" text-anchor="start" font-weight="bold" >TXA</text>
<text x="435.40" y="386.30" font-size="8.2" text-anchor="start" font-weight="bold" >anti-</text>
<text x="434.60" y="396.20" font-size="8.2" text-anchor="start" font-weight="bold" >ENO-1</text>
<text x="465.70" y="386.30" font-size="8.2" text-anchor="start" font-weight="bold" >IgG</text>
<text x="493.85" y="386.30" font-size="8.2" text-anchor="start" font-weight="bold" >TXA</text>
<text x="62.20" y="410.00" font-size="8.2" text-anchor="start" font-weight="bold" >Unstimulated</text>
<text x="175.20" y="409.80" font-size="8.2" text-anchor="start" font-weight="bold" letter-spacing="-0.16">LPS (5 &#956;g/mL)</text>
<text x="320.60" y="410.00" font-size="8.2" text-anchor="start" font-weight="bold" >Unstimulated</text>
<text x="434.20" y="409.80" font-size="8.2" text-anchor="start" font-weight="bold" letter-spacing="-0.16">LPS (5 &#956;g/mL)</text>
<line x1="37.00" y1="400.20" x2="138.40" y2="400.20" stroke="#000" stroke-width="1.5"/>
<line x1="148.10" y1="400.20" x2="250.20" y2="400.20" stroke="#000" stroke-width="1.5"/>
<line x1="294.60" y1="400.20" x2="397.00" y2="400.20" stroke="#000" stroke-width="1.5"/>
<line x1="406.80" y1="400.20" x2="508.70" y2="400.20" stroke="#000" stroke-width="1.5"/>
<text transform="translate(8.6,201.8) rotate(-90) scale(0.9,1)" font-size="8.9" text-anchor="middle" font-weight="bold">Number of cells (x 10<tspan font-size="6.05" dy="-3.38">3</tspan><tspan dy="3.38">)</tspan></text>
</svg>
</body></html>
